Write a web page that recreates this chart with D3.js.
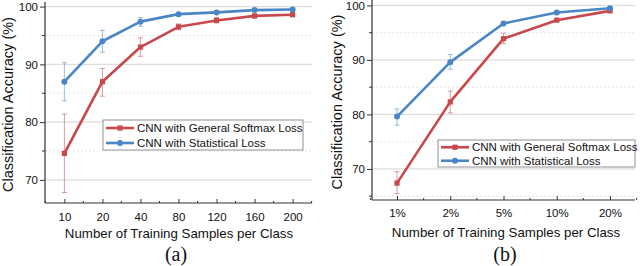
<!DOCTYPE html>
<html>
<head>
<meta charset="utf-8">
<script src="https://cdn.jsdelivr.net/npm/d3@7"></script>
<style>
  body { margin: 0; background: #fff; }
  svg { display: block; font-family: "Liberation Sans", Arial, sans-serif; }
</style>
</head>
<body>
<div id="my_graphic"></div>
<script>
// panel (a) data
var samples_a = ['10', '20', '40', '80', '120', '160', '200'];
var softmax_a = [74.6, 87.0, 93.0, 96.5, 97.6, 98.4, 98.6];
var softmax_a_lo = [67.8, 84.5, 91.4, 96.0, 97.2, 98.0, 98.3];
var softmax_a_hi = [81.4, 89.3, 94.6, 97.0, 98.1, 98.7, 98.9];
var stat_a = [87.0, 94.0, 97.4, 98.7, 99.0, 99.4, 99.5];
var stat_a_lo = [83.7, 92.1, 96.6, 98.4, 98.8, 99.2, 99.3];
var stat_a_hi = [90.3, 95.9, 98.1, 99.0, 99.2, 99.6, 99.7];

// panel (b) data
var samples_b = ['1%', '2%', '5%', '10%', '20%'];
var softmax_b = [67.4, 82.3, 93.9, 97.3, 99.0];
var softmax_b_lo = [65.5, 80.3, 93.0, 97.1, 98.8];
var softmax_b_hi = [69.5, 84.3, 94.9, 97.5, 99.2];
var stat_b = [79.6, 89.6, 96.7, 98.7, 99.5];
var stat_b_lo = [78.0, 88.3, 96.4, 98.5, 99.3];
var stat_b_hi = [81.0, 91.0, 97.0, 98.9, 99.7];

var y_major = [70, 80, 90, 100];
var y_minor_a = [75, 85, 95];
var y_minor_b = [65, 75, 85, 95];

var legend_names = ['CNN with General Softmax Loss', 'CNN with Statistical Loss'];
var colors = ['#c8484b', '#4a86c6'];

const svg = d3.select("#my_graphic")
    .append("svg")
    .attr("width", 640)
    .attr("height", 266);

draw_plot({
    cats: samples_a,
    series: [
        {v: softmax_a, lo: softmax_a_lo, hi: softmax_a_hi},
        {v: stat_a, lo: stat_a_lo, hi: stat_a_hi}
    ],
    minor: y_minor_a,
    yDomain: [66, 100.8],
    left: 45, right: 312, top: 2, bottom: 203,
    pad: 0.51,
    legend: {x: 103, y: 120, w: 200, h: 30},
    tickY: 221, titleX: 179, titleY: 238,
    capX: 176, capY: 261, cap: '(a)', ylabX: 13
});

draw_plot({
    cats: samples_b,
    series: [
        {v: softmax_b, lo: softmax_b_lo, hi: softmax_b_hi},
        {v: stat_b, lo: stat_b_lo, hi: stat_b_hi}
    ],
    minor: y_minor_b,
    yDomain: [64.3, 101],
    left: 372, right: 635, top: 0, bottom: 200,
    pad: 0.47,
    legend: {x: 438, y: 140, w: 197, h: 27},
    tickY: 217, titleX: 506, titleY: 237,
    capX: 505, capY: 261, cap: '(b)', ylabX: 342
});

function draw_plot(p) {
    const g = svg.append("g");

    const x = d3.scalePoint()
        .domain(p.cats)
        .range([p.left, p.right])
        .padding(p.pad);

    const y = d3.scaleLinear()
        .domain(p.yDomain)
        .range([p.bottom, p.top]);

    // grid lines
    g.selectAll(".gmaj")
        .data(y_major)
        .join("line")
        .attr("x1", p.left).attr("x2", p.right)
        .attr("y1", d => y(d)).attr("y2", d => y(d))
        .attr("stroke", "#dcdcdc")
        .attr("stroke-width", 1.2);

    g.selectAll(".gmin")
        .data(p.minor)
        .join("line")
        .attr("x1", p.left).attr("x2", p.right)
        .attr("y1", d => y(d)).attr("y2", d => y(d))
        .attr("stroke", "#e6e6e6")
        .attr("stroke-dasharray", "2,2");

    // y axis
    g.append("g")
        .attr("transform", `translate(${p.left},0)`)
        .call(d3.axisLeft(y).tickValues(y_major).tickSize(5).tickPadding(2).tickSizeOuter(0))
        .call(a => a.select(".domain").remove())
        .call(a => a.selectAll(".tick line").attr("stroke", "#333"))
        .call(a => a.selectAll(".tick text").attr("font-size", 11.5).attr("fill", "#111")
            .attr("font-family", "'Liberation Sans', Arial, sans-serif"));

    g.append("g")
        .selectAll("line")
        .data(p.minor)
        .join("line")
        .attr("x1", p.left - 3).attr("x2", p.left)
        .attr("y1", d => y(d)).attr("y2", d => y(d))
        .attr("stroke", "#333");

    // x axis
    g.append("g")
        .attr("transform", `translate(0,${p.bottom})`)
        .call(d3.axisBottom(x).tickSize(-4).tickPadding(0).tickSizeOuter(0))
        .call(a => a.select(".domain").remove())
        .call(a => a.selectAll(".tick line").attr("stroke", "#333"))
        .call(a => a.selectAll(".tick text").attr("font-size", 11.5).attr("fill", "#111")
            .attr("y", p.tickY - p.bottom).attr("dy", 0)
            .attr("font-family", "'Liberation Sans', Arial, sans-serif"));

    // minor x ticks halfway
    const mids = p.cats.slice(0, -1).map((c, i) => (x(c) + x(p.cats[i + 1])) / 2);
    mids.unshift(x(p.cats[0]) - x.step() / 2);
    mids.push(x(p.cats[p.cats.length - 1]) + x.step() / 2);
    g.append("g")
        .selectAll("line")
        .data(mids)
        .join("line")
        .attr("x1", d => d).attr("x2", d => d)
        .attr("y1", p.bottom).attr("y2", p.bottom - 2)
        .attr("stroke", "#333");

    // axis lines
    g.append("line")
        .attr("x1", p.left).attr("x2", p.left)
        .attr("y1", p.top).attr("y2", p.bottom)
        .attr("stroke", "#333").attr("stroke-width", 1.2);
    g.append("line")
        .attr("x1", p.left).attr("x2", p.right)
        .attr("y1", p.bottom).attr("y2", p.bottom)
        .attr("stroke", "#333").attr("stroke-width", 1.2);

    // series
    p.series.forEach(function(s, k) {
        const col = colors[k];
        const pts = p.cats.map((c, i) => ({c: c, v: s.v[i], lo: s.lo[i], hi: s.hi[i]}));

        const eb = g.append("g")
            .attr("stroke", col)
            .attr("stroke-opacity", 0.55)
            .attr("stroke-width", 1);
        eb.selectAll(".v")
            .data(pts)
            .join("line")
            .attr("x1", d => x(d.c)).attr("x2", d => x(d.c))
            .attr("y1", d => y(d.lo)).attr("y2", d => y(d.hi));
        eb.selectAll(".lo")
            .data(pts)
            .join("line")
            .attr("x1", d => x(d.c) - 2.5).attr("x2", d => x(d.c) + 2.5)
            .attr("y1", d => y(d.lo)).attr("y2", d => y(d.lo));
        eb.selectAll(".hi")
            .data(pts)
            .join("line")
            .attr("x1", d => x(d.c) - 2.5).attr("x2", d => x(d.c) + 2.5)
            .attr("y1", d => y(d.hi)).attr("y2", d => y(d.hi));

        g.append("path")
            .datum(pts)
            .attr("fill", "none")
            .attr("stroke", col)
            .attr("stroke-width", 2.6)
            .attr("stroke-linejoin", "round")
            .attr("d", d3.line().x(d => x(d.c)).y(d => y(d.v)));

        if (k === 0) {
            g.selectAll(".sq" + k)
                .data(pts)
                .join("rect")
                .attr("x", d => x(d.c) - 2.6).attr("y", d => y(d.v) - 2.6)
                .attr("width", 5.2).attr("height", 5.2)
                .attr("fill", col);
        } else {
            g.selectAll(".ci" + k)
                .data(pts)
                .join("circle")
                .attr("cx", d => x(d.c)).attr("cy", d => y(d.v))
                .attr("r", 3)
                .attr("fill", col);
        }
    });

    // legend
    const L = p.legend;
    g.append("rect")
        .attr("x", L.x).attr("y", L.y)
        .attr("width", L.w).attr("height", L.h)
        .attr("fill", "#fff")
        .attr("stroke", "#777")
        .attr("stroke-width", 0.8);

    const rowH = L.h / 2;
    legend_names.forEach(function(name, k) {
        const cy = L.y + rowH * (k + 0.5) + 0.5;
        g.append("line")
            .attr("x1", L.x + 3).attr("x2", L.x + 31)
            .attr("y1", cy).attr("y2", cy)
            .attr("stroke", colors[k]).attr("stroke-width", 2.6);
        if (k === 0) {
            g.append("rect")
                .attr("x", L.x + 17 - 2.6).attr("y", cy - 2.6)
                .attr("width", 5.2).attr("height", 5.2)
                .attr("fill", colors[k]);
        } else {
            g.append("circle")
                .attr("cx", L.x + 17).attr("cy", cy).attr("r", 3)
                .attr("fill", colors[k]);
        }
        g.append("text")
            .attr("x", L.x + 34)
            .attr("y", cy + 4)
            .attr("font-size", 11.5)
            .attr("fill", "#111")
            .text(name);
    });

    // titles
    g.append("text")
        .attr("transform", `translate(${p.ylabX},${(p.top + p.bottom) / 2 + 2}) rotate(-90)`)
        .attr("text-anchor", "middle")
        .attr("font-size", 14.5)
        .attr("fill", "#111")
        .text("Classification Accuracy (%)");

    g.append("text")
        .attr("x", p.titleX).attr("y", p.titleY)
        .attr("text-anchor", "middle")
        .attr("font-size", 13.3)
        .attr("fill", "#111")
        .text("Number of Training Samples per Class");

    g.append("text")
        .attr("x", p.capX).attr("y", p.capY)
        .attr("text-anchor", "middle")
        .attr("font-family", "'Liberation Serif', 'Times New Roman', serif")
        .attr("font-size", 20)
        .attr("fill", "#111")
        .text(p.cap);
}
</script>
</body>
</html>
